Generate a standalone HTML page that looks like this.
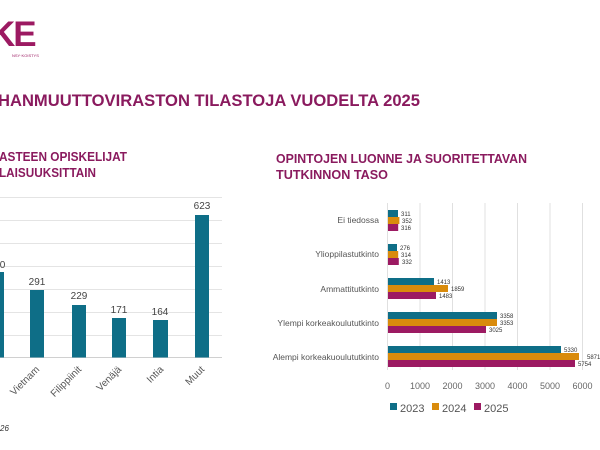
<!DOCTYPE html>
<html><head><meta charset="utf-8"><style>
html,body{margin:0;padding:0;background:#fff;width:600px;height:450px;overflow:hidden}
svg{display:block}
text{font-family:"Liberation Sans",sans-serif}
</style></head><body>
<svg width="600" height="450" viewBox="0 0 600 450">
<text x="-10" y="46" font-size="35" font-weight="bold" fill="#9c1a62" letter-spacing="-2">KE</text>
<text x="12" y="57" font-size="4" fill="#9c1a62">NSY·KOISTYS</text>
<text x="-2" y="106" font-size="17" font-weight="bold" fill="#8a1a5e" textLength="422" lengthAdjust="spacingAndGlyphs">HANMUUTTOVIRASTON TILASTOJA VUODELTA 2025</text>
<text x="-1" y="161" font-size="13" font-weight="bold" fill="#8a1a5e" textLength="128" lengthAdjust="spacingAndGlyphs">ASTEEN OPISKELIJAT</text>
<text x="-1" y="177" font-size="13" font-weight="bold" fill="#8a1a5e" textLength="97" lengthAdjust="spacingAndGlyphs">LAISUUKSITTAIN</text>
<text x="276" y="163" font-size="13" font-weight="bold" fill="#8a1a5e" textLength="251" lengthAdjust="spacingAndGlyphs">OPINTOJEN LUONNE JA SUORITETTAVAN</text>
<text x="276" y="179" font-size="13" font-weight="bold" fill="#8a1a5e" textLength="112" lengthAdjust="spacingAndGlyphs">TUTKINNON TASO</text>
<g stroke="#e4e4e4" stroke-width="1">
<line x1="0" x2="222" y1="197.5" y2="197.5"/><line x1="0" x2="222" y1="220.5" y2="220.5"/>
<line x1="0" x2="222" y1="243.5" y2="243.5"/><line x1="0" x2="222" y1="266.5" y2="266.5"/>
<line x1="0" x2="222" y1="289.5" y2="289.5"/><line x1="0" x2="222" y1="312.5" y2="312.5"/>
<line x1="0" x2="222" y1="335.5" y2="335.5"/><line x1="0" x2="222" y1="357.5" y2="357.5" stroke="#d0d0d0"/>
</g>
<g fill="#0e6e87">
<rect x="-10" y="272" width="14" height="85.5"/>
<rect x="30" y="290" width="14" height="67.5"/>
<rect x="72" y="305" width="14" height="52.5"/>
<rect x="112" y="318" width="14" height="39.5"/>
<rect x="153" y="320" width="15" height="37.5"/>
<rect x="195" y="215" width="14" height="142.5"/>
</g>
<g font-size="10" fill="#444" text-anchor="middle">
<text x="-3" y="268">370</text><text x="37" y="285">291</text><text x="79" y="299">229</text>
<text x="119" y="313">171</text><text x="160" y="315">164</text><text x="202" y="209">623</text>
</g>
<g font-size="10" fill="#555" text-anchor="end">
<text transform="translate(40,370) rotate(-45)">Vietnam</text>
<text transform="translate(82,370) rotate(-45)">Filippiinit</text>
<text transform="translate(122,370) rotate(-45)">Venäjä</text>
<text transform="translate(164,370) rotate(-45)">Intia</text>
<text transform="translate(205,370) rotate(-45)">Muut</text>
</g>
<text x="0" y="431" font-size="8" font-style="italic" fill="#333">26</text>
<g stroke="#e0e0e0">
<line x1="387.5" x2="387.5" y1="203" y2="370"/><line x1="420" x2="420" y1="203" y2="370"/>
<line x1="452.5" x2="452.5" y1="203" y2="370"/><line x1="485" x2="485" y1="203" y2="370"/>
<line x1="517.5" x2="517.5" y1="203" y2="370"/><line x1="550" x2="550" y1="203" y2="370"/>
<line x1="582.5" x2="582.5" y1="203" y2="370"/>
</g>
<g>
<rect x="388" y="210" width="10" height="7" fill="#0e6e87"/>
<rect x="388" y="217" width="11.4" height="7" fill="#d98b0c"/>
<rect x="388" y="224" width="10.2" height="7" fill="#9c1a62"/>
<rect x="388" y="244" width="9" height="7" fill="#0e6e87"/>
<rect x="388" y="251" width="10.2" height="7" fill="#d98b0c"/>
<rect x="388" y="258" width="10.8" height="7" fill="#9c1a62"/>
<rect x="388" y="278" width="46" height="7" fill="#0e6e87"/>
<rect x="388" y="285" width="60" height="7" fill="#d98b0c"/>
<rect x="388" y="292" width="48" height="7" fill="#9c1a62"/>
<rect x="388" y="312" width="109" height="7" fill="#0e6e87"/>
<rect x="388" y="319" width="109" height="7" fill="#d98b0c"/>
<rect x="388" y="326" width="98" height="7" fill="#9c1a62"/>
<rect x="388" y="346" width="173" height="7" fill="#0e6e87"/>
<rect x="388" y="353" width="191" height="7" fill="#d98b0c"/>
<rect x="388" y="360" width="187" height="7" fill="#9c1a62"/>
</g>
<g font-size="6" fill="#333">
<text x="401" y="216">311</text><text x="402" y="223">352</text><text x="401" y="230">316</text>
<text x="400" y="250">276</text><text x="401" y="257">314</text><text x="402" y="264">332</text>
<text x="437" y="284">1413</text><text x="451" y="291">1859</text><text x="439" y="298">1483</text>
<text x="500" y="318">3358</text><text x="500" y="325">3353</text><text x="489" y="332">3025</text>
<text x="564" y="352">5330</text><text x="587" y="359">5871</text><text x="578" y="366">5754</text>
</g>
<g font-size="8.5" fill="#555" text-anchor="end">
<text x="379" y="223">Ei tiedossa</text>
<text x="379" y="257">Ylioppilastutkinto</text>
<text x="379" y="292">Ammattitutkinto</text>
<text x="379" y="326">Ylempi korkeakoulututkinto</text>
<text x="379" y="360">Alempi korkeakuoulututkinto</text>
</g>
<g font-size="9" fill="#666" text-anchor="middle">
<text x="387.5" y="389">0</text><text x="420" y="389">1000</text><text x="452.5" y="389">2000</text>
<text x="485" y="389">3000</text><text x="517.5" y="389">4000</text><text x="550" y="389">5000</text><text x="582.5" y="389">6000</text>
</g>
<g font-size="11" fill="#555">
<rect x="390" y="403" width="7" height="7" fill="#0e6e87"/><text x="400" y="412">2023</text>
<rect x="432" y="403" width="7" height="7" fill="#d98b0c"/><text x="442" y="412">2024</text>
<rect x="474" y="403" width="7" height="7" fill="#9c1a62"/><text x="484" y="412">2025</text>
</g>
</svg>
</body></html>
